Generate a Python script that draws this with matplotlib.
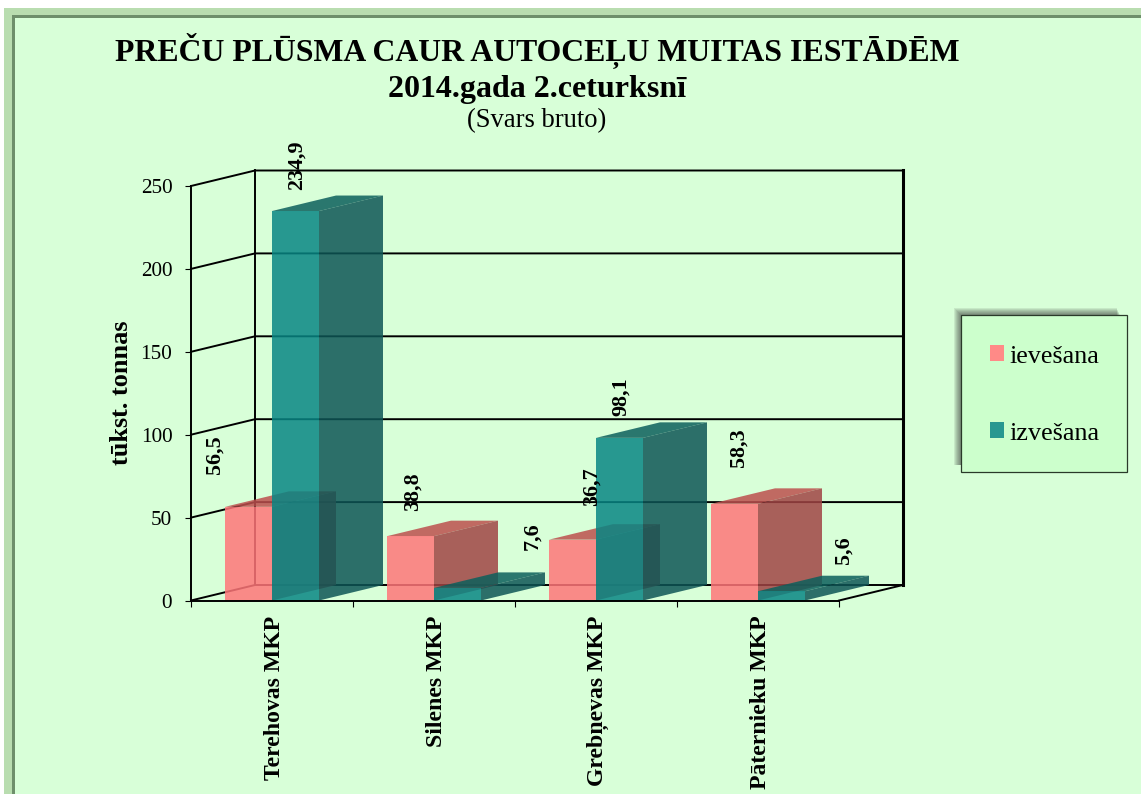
import matplotlib
matplotlib.use("Agg")
import matplotlib.pyplot as plt
from matplotlib.patches import Polygon, Rectangle, Patch
from matplotlib.transforms import IdentityTransform

plt.rcParams['font.family'] = ['Liberation Serif', 'DejaVu Serif']

W, H = 1141, 798

# chart data
categories = ["Terehovas MKP", "Silenes MKP", "Grebņevas MKP", "Pāternieku MKP"]
ievesana = [56.5, 38.8, 36.7, 58.3]
izvesana = [234.9, 7.6, 98.1, 5.6]
value_labels_iev = ["56,5", "38,8", "36,7", "58,3"]
value_labels_izv = ["234,9", "7,6", "98,1", "5,6"]
y_ticks = [0, 50, 100, 150, 200, 250]

# label shifts in pixels from the top centre of each bar
shift_iev = [(-34, 52), (2, 44), (19, 53), (4, 56)]
shift_izv = [(1, 46), (75, 52), (1, 41), (62, 41)]

# 3d look: how far the depth goes, in data units
DX = 64 / 162
DY = 15.5 / 1.658
BAR_W = 47 / 162

RED = dict(front="#FF7679", side="#A04444", top="#BC504E")
TEAL = dict(front="#088684", side="#0E5656", top="#0C5F5C")
ALPHA = 0.85
BG = "#D8FFD8"

fig = plt.figure(figsize=(W / 100, H / 100), dpi=100, facecolor="white")


def px_rect(x0, y0, x1, y1, **kw):
    # rectangle on the figure, y counted from the top like in the image
    fig.add_artist(Rectangle((x0, H - y1), x1 - x0, y1 - y0,
                             transform=IdentityTransform(), **kw))


def px_poly(pts, **kw):
    fig.add_artist(Polygon([(x, H - y) for x, y in pts], closed=True,
                           transform=IdentityTransform(), lw=0, **kw))


# panel with bevelled border
px_rect(4, 8, W, 794, facecolor=BG, edgecolor="none")
px_poly([(4, 8), (W, 8), (W, 15), (12, 15), (12, 794), (4, 794)], facecolor="#B9DDB0")
px_poly([(12, 15), (W, 15), (W, 18), (15, 18), (15, 794), (12, 794)], facecolor="#6E8F6B")

ax = fig.add_axes([191 / W, (H - 600.5) / H, 648 / W, 414.5 / H])
ax.set_zorder(5)
ax.set_facecolor("none")
ax.set_xlim(0, 4)
ax.set_ylim(0, 250)

# walls and grid
line = dict(color="black", lw=1.4, clip_on=False, zorder=1)
for v in y_ticks:
    ax.plot([0, DX, 4 + DX], [v, v + DY, v + DY], **line)
ax.plot([DX, DX], [DY, 250 + DY], **line)
ax.plot([4 + DX, 4 + DX], [DY, 250 + DY], color="black", lw=2.2, clip_on=False, zorder=1)
ax.plot([4, 4 + DX], [0, DY], **line)


def bar3d(x, v, colors, z):
    kw = dict(alpha=ALPHA, lw=0, clip_on=False, zorder=z)
    ax.add_patch(Polygon([(x, v), (x + BAR_W, v), (x + BAR_W + DX, v + DY), (x + DX, v + DY)],
                         facecolor=colors["top"], **kw))
    ax.add_patch(Polygon([(x + BAR_W, 0), (x + BAR_W + DX, DY), (x + BAR_W + DX, v + DY), (x + BAR_W, v)],
                         facecolor=colors["side"], **kw))
    ax.add_patch(Rectangle((x, 0), BAR_W, v, facecolor=colors["front"], **kw))


for i in range(len(categories)):
    bar3d(i + 0.5 - BAR_W, ievesana[i], RED, 2)
for i in range(len(categories)):
    bar3d(i + 0.5, izvesana[i], TEAL, 3)

# value labels
for i in range(len(categories)):
    ax.annotate(value_labels_iev[i], (i + 0.5 - BAR_W / 2, ievesana[i]), xytext=shift_iev[i],
                textcoords="offset pixels", rotation=90, ha="center", va="center",
                fontsize=15.8, fontweight="bold", zorder=5, annotation_clip=False)
    ax.annotate(value_labels_izv[i], (i + 0.5 + BAR_W / 2, izvesana[i]), xytext=shift_izv[i],
                textcoords="offset pixels", rotation=90, ha="center", va="center",
                fontsize=15.8, fontweight="bold", zorder=5, annotation_clip=False)

# axes
for s in ["top", "right"]:
    ax.spines[s].set_visible(False)
for s in ["left", "bottom"]:
    ax.spines[s].set_linewidth(1.4)
    ax.spines[s].set_zorder(4)
ax.set_yticks(y_ticks)
ax.tick_params(axis="y", labelsize=15.2, length=4.5, width=0.8, pad=9)
ax.set_xticks(range(5))
ax.set_xticklabels([])
ax.tick_params(axis="x", length=4.5, width=0.8)
for i, name in enumerate(categories):
    ax.annotate(name, (i + 0.5, 0), xytext=(2, -15), textcoords="offset pixels",
                rotation=90, ha="center", va="top", fontsize=17.1, fontweight="bold",
                annotation_clip=False)

fig.text(121 / W, 1 - 393 / H, "tūkst. tonnas", rotation=90, ha="center", va="center",
         fontsize=18.9, fontweight="bold")

# titles
fig.text(537 / W, 1 - 51 / H, "PREČU PLŪSMA CAUR AUTOCEĻU MUITAS IESTĀDĒM",
         ha="center", va="center", fontsize=22.9, fontweight="bold")
fig.text(537 / W, 1 - 89 / H, "2014.gada 2.ceturksnī",
         ha="center", va="center", fontsize=23, fontweight="bold")
fig.text(537 / W, 1 - 121 / H, "(Svars bruto)", ha="center", va="center", fontsize=19.2)

# legend box with soft shadow on the top left
for k in range(8):
    px_rect(961 - k, 315 - k, 1120 - k * 0.5, 465, facecolor="#303030", alpha=0.1, edgecolor="none")
px_rect(961, 315, 1127, 472, facecolor="#CCFFCC", edgecolor="#2A3A2A", lw=0.9)
handles = [Patch(facecolor="#FF8A87", edgecolor="none", label="ievešana"),
           Patch(facecolor="#279890", edgecolor="none", label="izvešana")]
fig.legend(handles=handles, loc="center left", bbox_to_anchor=(990 / W, 1 - 395 / H),
           frameon=False, fontsize=18.8, handlelength=0.55, handleheight=0.55,
           handletextpad=0.2, labelspacing=2.1, borderpad=0, borderaxespad=0)

fig.savefig("out.png", dpi=100)
